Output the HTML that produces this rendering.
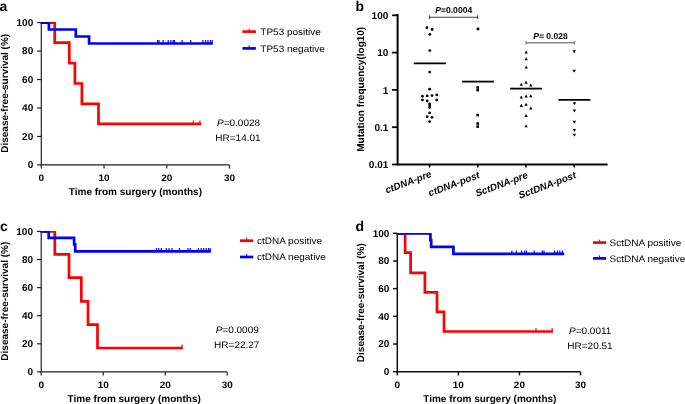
<!DOCTYPE html>
<html><head><meta charset="utf-8"><style>
html,body{margin:0;padding:0;background:#fff;overflow:hidden;width:685px;height:404px;}
svg{display:block;will-change:transform;}
text{font-family:"Liberation Sans",sans-serif;fill:#000;text-rendering:geometricPrecision;}
</style></head><body>
<svg width="685" height="404" viewBox="0 0 685 404">
<rect width="685" height="404" fill="#fff"/>
<path d="M41.3,22.6 V164.9 H229.5" fill="none" stroke="#222" stroke-width="1.2"/>
<clipPath id="clipa"><rect x="39.3" y="21.9" width="300" height="200"/></clipPath>
<g clip-path="url(#clipa)">
<path d="M40.699999999999996,22.6 H54.7 V42.6 H69.3 V63.1 H74.9 V83.5 H81.9 V103.8 H98.5 V123.9 H201.2" fill="none" stroke="#ff0000" stroke-width="2.7" stroke-linejoin="miter" stroke-linecap="butt"/>
<line x1="193.3" y1="123.9" x2="193.3" y2="120.5" stroke="#ff0000" stroke-width="1.2"/>
<line x1="199.9" y1="123.9" x2="199.9" y2="120.5" stroke="#ff0000" stroke-width="1.2"/>
<path d="M40.699999999999996,22.6 H48.9 V29.5 H75.8 V36.5 H89.1 V43.5 H212.8" fill="none" stroke="#0000ff" stroke-width="2.7" stroke-linejoin="miter" stroke-linecap="butt"/>
<line x1="157.6" y1="43.5" x2="157.6" y2="40.1" stroke="#0000ff" stroke-width="1.2"/>
<line x1="159" y1="43.5" x2="159" y2="40.1" stroke="#0000ff" stroke-width="1.2"/>
<line x1="163.1" y1="43.5" x2="163.1" y2="40.1" stroke="#0000ff" stroke-width="1.2"/>
<line x1="168.2" y1="43.5" x2="168.2" y2="40.1" stroke="#0000ff" stroke-width="1.2"/>
<line x1="170.9" y1="43.5" x2="170.9" y2="40.1" stroke="#0000ff" stroke-width="1.2"/>
<line x1="173.2" y1="43.5" x2="173.2" y2="40.1" stroke="#0000ff" stroke-width="1.2"/>
<line x1="174.5" y1="43.5" x2="174.5" y2="40.1" stroke="#0000ff" stroke-width="1.2"/>
<line x1="182.1" y1="43.5" x2="182.1" y2="40.1" stroke="#0000ff" stroke-width="1.2"/>
<line x1="190.6" y1="43.5" x2="190.6" y2="40.1" stroke="#0000ff" stroke-width="1.2"/>
<line x1="202.8" y1="43.5" x2="202.8" y2="40.1" stroke="#0000ff" stroke-width="1.2"/>
<line x1="205.5" y1="43.5" x2="205.5" y2="40.1" stroke="#0000ff" stroke-width="1.2"/>
<line x1="207.9" y1="43.5" x2="207.9" y2="40.1" stroke="#0000ff" stroke-width="1.2"/>
<line x1="210.4" y1="43.5" x2="210.4" y2="40.1" stroke="#0000ff" stroke-width="1.2"/>
<line x1="212.2" y1="43.5" x2="212.2" y2="40.1" stroke="#0000ff" stroke-width="1.2"/>
</g>
<line x1="37.099999999999994" y1="164.9" x2="41.3" y2="164.9" stroke="#222" stroke-width="1.2"/>
<text x="0" y="0" font-size="10" font-weight="bold" font-style="normal" text-anchor="end" fill="#000" transform="translate(33.2,168.1) scale(1,1.0)" >0</text>
<line x1="37.099999999999994" y1="136.44" x2="41.3" y2="136.44" stroke="#222" stroke-width="1.2"/>
<text x="0" y="0" font-size="10" font-weight="bold" font-style="normal" text-anchor="end" fill="#000" transform="translate(33.2,139.64) scale(1,1.0)" >20</text>
<line x1="37.099999999999994" y1="107.98" x2="41.3" y2="107.98" stroke="#222" stroke-width="1.2"/>
<text x="0" y="0" font-size="10" font-weight="bold" font-style="normal" text-anchor="end" fill="#000" transform="translate(33.2,111.18) scale(1,1.0)" >40</text>
<line x1="37.099999999999994" y1="79.52" x2="41.3" y2="79.52" stroke="#222" stroke-width="1.2"/>
<text x="0" y="0" font-size="10" font-weight="bold" font-style="normal" text-anchor="end" fill="#000" transform="translate(33.2,82.72) scale(1,1.0)" >60</text>
<line x1="37.099999999999994" y1="51.06" x2="41.3" y2="51.06" stroke="#222" stroke-width="1.2"/>
<text x="0" y="0" font-size="10" font-weight="bold" font-style="normal" text-anchor="end" fill="#000" transform="translate(33.2,54.26) scale(1,1.0)" >80</text>
<line x1="37.099999999999994" y1="22.599999999999994" x2="41.3" y2="22.599999999999994" stroke="#222" stroke-width="1.2"/>
<text x="0" y="0" font-size="10" font-weight="bold" font-style="normal" text-anchor="end" fill="#000" transform="translate(33.2,25.8) scale(1,1.0)" >100</text>
<line x1="41.3" y1="164.9" x2="41.3" y2="168.6" stroke="#222" stroke-width="1.2"/>
<text x="0" y="0" font-size="10" font-weight="bold" font-style="normal" text-anchor="middle" fill="#000" transform="translate(41.3,180.65) scale(1,0.94)" >0</text>
<line x1="104.03333333333333" y1="164.9" x2="104.03333333333333" y2="168.6" stroke="#222" stroke-width="1.2"/>
<text x="0" y="0" font-size="10" font-weight="bold" font-style="normal" text-anchor="middle" fill="#000" transform="translate(104.03,180.65) scale(1,0.94)" >10</text>
<line x1="166.76666666666665" y1="164.9" x2="166.76666666666665" y2="168.6" stroke="#222" stroke-width="1.2"/>
<text x="0" y="0" font-size="10" font-weight="bold" font-style="normal" text-anchor="middle" fill="#000" transform="translate(166.77,180.65) scale(1,0.94)" >20</text>
<line x1="229.49999999999994" y1="164.9" x2="229.49999999999994" y2="168.6" stroke="#222" stroke-width="1.2"/>
<text x="0" y="0" font-size="10" font-weight="bold" font-style="normal" text-anchor="middle" fill="#000" transform="translate(229.5,180.65) scale(1,0.94)" >30</text>
<text x="0" y="0" font-size="10" font-weight="bold" font-style="normal" text-anchor="middle" fill="#000" transform="translate(135.4,194.6) scale(1,1)" >Time from surgery (months)</text>
<text x="0" y="0" font-size="10" font-weight="bold" text-anchor="middle" transform="translate(7.9,93.3) rotate(-90)">Disease-free-survival (%)</text>
<line x1="242.4" y1="31.6" x2="255.9" y2="31.6" stroke="#ff0000" stroke-width="2.7"/>
<line x1="249.15" y1="31.6" x2="249.15" y2="28.6" stroke="#ff0000" stroke-width="1"/>
<text x="0" y="0" font-size="10" transform="translate(260.3,35.4) scale(1,0.94)">TP53 positive</text>
<line x1="242.4" y1="48.4" x2="255.9" y2="48.4" stroke="#0000ff" stroke-width="2.7"/>
<line x1="249.15" y1="48.4" x2="249.15" y2="45.4" stroke="#0000ff" stroke-width="1"/>
<text x="0" y="0" font-size="10" transform="translate(260.3,51.6) scale(1,0.94)">TP53 negative</text>
<text x="0" y="0" font-size="10" transform="translate(217,125.8) scale(1,0.94)"><tspan font-style="italic">P</tspan>=0.0028</text>
<text x="0" y="0" font-size="10" transform="translate(215.3,140.7) scale(1,0.94)">HR=14.01</text>
<text x="0" y="0" font-size="14" font-weight="bold" font-style="normal" text-anchor="start" fill="#000" transform="translate(-0.6,10.6) scale(1,1)" >a</text>
<path d="M41.2,231.4 V371.9 H227.2" fill="none" stroke="#222" stroke-width="1.2"/>
<clipPath id="clipc"><rect x="39.2" y="230.9" width="300" height="200"/></clipPath>
<g clip-path="url(#clipc)">
<path d="M40.6,231.3 H54.8 V254.4 H69.0 V277.7 H81.3 V301.4 H88.0 V324.6 H97.5 V348.0 H182.7" fill="none" stroke="#ff0000" stroke-width="2.7" stroke-linejoin="miter" stroke-linecap="butt"/>
<line x1="182.1" y1="348.0" x2="182.1" y2="344.6" stroke="#ff0000" stroke-width="1.2"/>
<path d="M40.6,231.3 H48.7 V237.8 H74.1 V244.3 H75.2 V251.4 H210.8" fill="none" stroke="#0000ff" stroke-width="2.7" stroke-linejoin="miter" stroke-linecap="butt"/>
<line x1="156.5" y1="251.4" x2="156.5" y2="248.0" stroke="#0000ff" stroke-width="1.2"/>
<line x1="158.7" y1="251.4" x2="158.7" y2="248.0" stroke="#0000ff" stroke-width="1.2"/>
<line x1="161.4" y1="251.4" x2="161.4" y2="248.0" stroke="#0000ff" stroke-width="1.2"/>
<line x1="166.3" y1="251.4" x2="166.3" y2="248.0" stroke="#0000ff" stroke-width="1.2"/>
<line x1="169" y1="251.4" x2="169" y2="248.0" stroke="#0000ff" stroke-width="1.2"/>
<line x1="172" y1="251.4" x2="172" y2="248.0" stroke="#0000ff" stroke-width="1.2"/>
<line x1="179.4" y1="251.4" x2="179.4" y2="248.0" stroke="#0000ff" stroke-width="1.2"/>
<line x1="188" y1="251.4" x2="188" y2="248.0" stroke="#0000ff" stroke-width="1.2"/>
<line x1="190.3" y1="251.4" x2="190.3" y2="248.0" stroke="#0000ff" stroke-width="1.2"/>
<line x1="198.4" y1="251.4" x2="198.4" y2="248.0" stroke="#0000ff" stroke-width="1.2"/>
<line x1="201.2" y1="251.4" x2="201.2" y2="248.0" stroke="#0000ff" stroke-width="1.2"/>
<line x1="203.8" y1="251.4" x2="203.8" y2="248.0" stroke="#0000ff" stroke-width="1.2"/>
<line x1="206.2" y1="251.4" x2="206.2" y2="248.0" stroke="#0000ff" stroke-width="1.2"/>
<line x1="208.5" y1="251.4" x2="208.5" y2="248.0" stroke="#0000ff" stroke-width="1.2"/>
<line x1="210.2" y1="251.4" x2="210.2" y2="248.0" stroke="#0000ff" stroke-width="1.2"/>
</g>
<line x1="37.0" y1="371.9" x2="41.2" y2="371.9" stroke="#222" stroke-width="1.2"/>
<text x="0" y="0" font-size="10" font-weight="bold" font-style="normal" text-anchor="end" fill="#000" transform="translate(33.0,375.1) scale(1,1.0)" >0</text>
<line x1="37.0" y1="343.79999999999995" x2="41.2" y2="343.79999999999995" stroke="#222" stroke-width="1.2"/>
<text x="0" y="0" font-size="10" font-weight="bold" font-style="normal" text-anchor="end" fill="#000" transform="translate(33.0,347.0) scale(1,1.0)" >20</text>
<line x1="37.0" y1="315.7" x2="41.2" y2="315.7" stroke="#222" stroke-width="1.2"/>
<text x="0" y="0" font-size="10" font-weight="bold" font-style="normal" text-anchor="end" fill="#000" transform="translate(33.0,318.9) scale(1,1.0)" >40</text>
<line x1="37.0" y1="287.6" x2="41.2" y2="287.6" stroke="#222" stroke-width="1.2"/>
<text x="0" y="0" font-size="10" font-weight="bold" font-style="normal" text-anchor="end" fill="#000" transform="translate(33.0,290.8) scale(1,1.0)" >60</text>
<line x1="37.0" y1="259.5" x2="41.2" y2="259.5" stroke="#222" stroke-width="1.2"/>
<text x="0" y="0" font-size="10" font-weight="bold" font-style="normal" text-anchor="end" fill="#000" transform="translate(33.0,262.7) scale(1,1.0)" >80</text>
<line x1="37.0" y1="231.4" x2="41.2" y2="231.4" stroke="#222" stroke-width="1.2"/>
<text x="0" y="0" font-size="10" font-weight="bold" font-style="normal" text-anchor="end" fill="#000" transform="translate(33.0,234.6) scale(1,1.0)" >100</text>
<line x1="41.2" y1="371.9" x2="41.2" y2="375.59999999999997" stroke="#222" stroke-width="1.2"/>
<text x="0" y="0" font-size="10" font-weight="bold" font-style="normal" text-anchor="middle" fill="#000" transform="translate(41.2,387.85) scale(1,0.94)" >0</text>
<line x1="103.2" y1="371.9" x2="103.2" y2="375.59999999999997" stroke="#222" stroke-width="1.2"/>
<text x="0" y="0" font-size="10" font-weight="bold" font-style="normal" text-anchor="middle" fill="#000" transform="translate(103.2,387.85) scale(1,0.94)" >10</text>
<line x1="165.2" y1="371.9" x2="165.2" y2="375.59999999999997" stroke="#222" stroke-width="1.2"/>
<text x="0" y="0" font-size="10" font-weight="bold" font-style="normal" text-anchor="middle" fill="#000" transform="translate(165.2,387.85) scale(1,0.94)" >20</text>
<line x1="227.2" y1="371.9" x2="227.2" y2="375.59999999999997" stroke="#222" stroke-width="1.2"/>
<text x="0" y="0" font-size="10" font-weight="bold" font-style="normal" text-anchor="middle" fill="#000" transform="translate(227.2,387.85) scale(1,0.94)" >30</text>
<text x="0" y="0" font-size="10" font-weight="bold" font-style="normal" text-anchor="middle" fill="#000" transform="translate(134.2,401.8) scale(1,1)" >Time from surgery (months)</text>
<text x="0" y="0" font-size="10" font-weight="bold" text-anchor="middle" transform="translate(7.7,301.2) rotate(-90)">Disease-free-survival (%)</text>
<line x1="240" y1="240.7" x2="253.3" y2="240.7" stroke="#ff0000" stroke-width="2.7"/>
<line x1="246.65" y1="240.7" x2="246.65" y2="237.7" stroke="#ff0000" stroke-width="1"/>
<text x="0" y="0" font-size="10" transform="translate(257,243.8) scale(1,0.94)">ctDNA positive</text>
<line x1="240" y1="257.0" x2="253.3" y2="257.0" stroke="#0000ff" stroke-width="2.7"/>
<line x1="246.65" y1="257.0" x2="246.65" y2="254.0" stroke="#0000ff" stroke-width="1"/>
<text x="0" y="0" font-size="10" transform="translate(257,260.2) scale(1,0.94)">ctDNA negative</text>
<text x="0" y="0" font-size="10" transform="translate(215.7,333.3) scale(1,0.94)"><tspan font-style="italic">P</tspan>=0.0009</text>
<text x="0" y="0" font-size="10" transform="translate(214.1,348.1) scale(1,0.94)">HR=22.27</text>
<text x="0" y="0" font-size="14" font-weight="bold" font-style="normal" text-anchor="start" fill="#000" transform="translate(0.1,230.7) scale(1,1)" >c</text>
<path d="M397.3,233.3 V371.7 H580.5" fill="none" stroke="#111" stroke-width="1.5"/>
<clipPath id="clipd"><rect x="395.3" y="232.9" width="300" height="200"/></clipPath>
<g clip-path="url(#clipd)">
<path d="M396.7,233.4 H405.1 V252.6 H410.6 V272.8 H424.9 V292.4 H437.0 V311.8 H444.0 V331.5 H552.9" fill="none" stroke="#ff0000" stroke-width="2.7" stroke-linejoin="miter" stroke-linecap="butt"/>
<line x1="536.0" y1="331.5" x2="536.0" y2="328.1" stroke="#ff0000" stroke-width="1.2"/>
<line x1="552.1" y1="331.5" x2="552.1" y2="328.1" stroke="#ff0000" stroke-width="1.2"/>
<path d="M396.7,233.4 H430.4 V240.2 H431.2 V246.8 H453.4 V253.9 H564.2" fill="none" stroke="#0000ff" stroke-width="2.7" stroke-linejoin="miter" stroke-linecap="butt"/>
<line x1="511.9" y1="253.9" x2="511.9" y2="250.5" stroke="#0000ff" stroke-width="1.2"/>
<line x1="516.3" y1="253.9" x2="516.3" y2="250.5" stroke="#0000ff" stroke-width="1.2"/>
<line x1="521.6" y1="253.9" x2="521.6" y2="250.5" stroke="#0000ff" stroke-width="1.2"/>
<line x1="524.8" y1="253.9" x2="524.8" y2="250.5" stroke="#0000ff" stroke-width="1.2"/>
<line x1="526.5" y1="253.9" x2="526.5" y2="250.5" stroke="#0000ff" stroke-width="1.2"/>
<line x1="534.2" y1="253.9" x2="534.2" y2="250.5" stroke="#0000ff" stroke-width="1.2"/>
<line x1="542.3" y1="253.9" x2="542.3" y2="250.5" stroke="#0000ff" stroke-width="1.2"/>
<line x1="544" y1="253.9" x2="544" y2="250.5" stroke="#0000ff" stroke-width="1.2"/>
<line x1="554.6" y1="253.9" x2="554.6" y2="250.5" stroke="#0000ff" stroke-width="1.2"/>
<line x1="557.4" y1="253.9" x2="557.4" y2="250.5" stroke="#0000ff" stroke-width="1.2"/>
<line x1="559.8" y1="253.9" x2="559.8" y2="250.5" stroke="#0000ff" stroke-width="1.2"/>
<line x1="562.4" y1="253.9" x2="562.4" y2="250.5" stroke="#0000ff" stroke-width="1.2"/>
</g>
<line x1="393.1" y1="371.7" x2="397.3" y2="371.7" stroke="#111" stroke-width="1.5"/>
<text x="0" y="0" font-size="10" font-weight="bold" font-style="normal" text-anchor="end" fill="#000" transform="translate(389.4,374.9) scale(1,1.0)" >0</text>
<line x1="393.1" y1="344.02" x2="397.3" y2="344.02" stroke="#111" stroke-width="1.5"/>
<text x="0" y="0" font-size="10" font-weight="bold" font-style="normal" text-anchor="end" fill="#000" transform="translate(389.4,347.22) scale(1,1.0)" >20</text>
<line x1="393.1" y1="316.34" x2="397.3" y2="316.34" stroke="#111" stroke-width="1.5"/>
<text x="0" y="0" font-size="10" font-weight="bold" font-style="normal" text-anchor="end" fill="#000" transform="translate(389.4,319.54) scale(1,1.0)" >40</text>
<line x1="393.1" y1="288.65999999999997" x2="397.3" y2="288.65999999999997" stroke="#111" stroke-width="1.5"/>
<text x="0" y="0" font-size="10" font-weight="bold" font-style="normal" text-anchor="end" fill="#000" transform="translate(389.4,291.86) scale(1,1.0)" >60</text>
<line x1="393.1" y1="260.98" x2="397.3" y2="260.98" stroke="#111" stroke-width="1.5"/>
<text x="0" y="0" font-size="10" font-weight="bold" font-style="normal" text-anchor="end" fill="#000" transform="translate(389.4,264.18) scale(1,1.0)" >80</text>
<line x1="393.1" y1="233.3" x2="397.3" y2="233.3" stroke="#111" stroke-width="1.5"/>
<text x="0" y="0" font-size="10" font-weight="bold" font-style="normal" text-anchor="end" fill="#000" transform="translate(389.4,236.5) scale(1,1.0)" >100</text>
<line x1="397.3" y1="371.7" x2="397.3" y2="375.4" stroke="#111" stroke-width="1.5"/>
<text x="0" y="0" font-size="10" font-weight="bold" font-style="normal" text-anchor="middle" fill="#000" transform="translate(397.3,387.85) scale(1,0.94)" >0</text>
<line x1="458.3666666666667" y1="371.7" x2="458.3666666666667" y2="375.4" stroke="#111" stroke-width="1.5"/>
<text x="0" y="0" font-size="10" font-weight="bold" font-style="normal" text-anchor="middle" fill="#000" transform="translate(458.37,387.85) scale(1,0.94)" >10</text>
<line x1="519.4333333333334" y1="371.7" x2="519.4333333333334" y2="375.4" stroke="#111" stroke-width="1.5"/>
<text x="0" y="0" font-size="10" font-weight="bold" font-style="normal" text-anchor="middle" fill="#000" transform="translate(519.43,387.85) scale(1,0.94)" >20</text>
<line x1="580.5" y1="371.7" x2="580.5" y2="375.4" stroke="#111" stroke-width="1.5"/>
<text x="0" y="0" font-size="10" font-weight="bold" font-style="normal" text-anchor="middle" fill="#000" transform="translate(580.5,387.85) scale(1,0.94)" >30</text>
<text x="0" y="0" font-size="10" font-weight="bold" font-style="normal" text-anchor="middle" fill="#000" transform="translate(489.8,401.8) scale(1,1)" >Time from surgery (months)</text>
<text x="0" y="0" font-size="10" font-weight="bold" text-anchor="middle" transform="translate(363.9,302.7) rotate(-90)">Disease-free-survival (%)</text>
<line x1="593" y1="242.6" x2="606.2" y2="242.6" stroke="#ff0000" stroke-width="2.7"/>
<line x1="599.6" y1="242.6" x2="599.6" y2="239.6" stroke="#ff0000" stroke-width="1"/>
<text x="0" y="0" font-size="10" transform="translate(609.6,246.2) scale(1,0.94)">SctDNA positive</text>
<line x1="593" y1="258.4" x2="606.2" y2="258.4" stroke="#0000ff" stroke-width="2.7"/>
<line x1="599.6" y1="258.4" x2="599.6" y2="255.39999999999998" stroke="#0000ff" stroke-width="1"/>
<text x="0" y="0" font-size="10" transform="translate(609.6,261.9) scale(1,0.94)">SctDNA negative</text>
<text x="0" y="0" font-size="10" transform="translate(569,333.7) scale(1,0.94)"><tspan font-style="italic">P</tspan>=0.0011</text>
<text x="0" y="0" font-size="10" transform="translate(567.3,348.6) scale(1,0.94)">HR=20.51</text>
<text x="0" y="0" font-size="14" font-weight="bold" font-style="normal" text-anchor="start" fill="#000" transform="translate(355.4,230.8) scale(1,1)" >d</text>
<circle cx="426.9" cy="27.7" r="1.4" fill="#000"/>
<circle cx="432.1" cy="29.5" r="1.4" fill="#000"/>
<circle cx="429.8" cy="34.3" r="1.4" fill="#000"/>
<circle cx="429.8" cy="50.6" r="1.4" fill="#000"/>
<circle cx="429.7" cy="72.1" r="1.4" fill="#000"/>
<circle cx="429.65" cy="89.16" r="1.4" fill="#000"/>
<circle cx="422.4" cy="96.2" r="1.4" fill="#000"/>
<circle cx="427.2" cy="95.9" r="1.4" fill="#000"/>
<circle cx="432.0" cy="95.6" r="1.4" fill="#000"/>
<circle cx="436.8" cy="94.9" r="1.4" fill="#000"/>
<circle cx="422.4" cy="100" r="1.4" fill="#000"/>
<circle cx="427.2" cy="100.8" r="1.4" fill="#000"/>
<circle cx="436.8" cy="100" r="1.4" fill="#000"/>
<circle cx="429.65" cy="104.0" r="1.4" fill="#000"/>
<circle cx="429.65" cy="105.8" r="1.4" fill="#000"/>
<circle cx="429.65" cy="107.6" r="1.4" fill="#000"/>
<circle cx="429.65" cy="112.9" r="1.4" fill="#000"/>
<circle cx="427.2" cy="116.7" r="1.4" fill="#000"/>
<circle cx="432.0" cy="117.3" r="1.4" fill="#000"/>
<circle cx="429.65" cy="121.6" r="1.4" fill="#000"/>
<rect x="476.7" y="27.599999999999998" width="2.6" height="2.6" fill="#000"/>
<rect x="476.4" y="86.2" width="2.6" height="2.6" fill="#000"/>
<rect x="476.4" y="88.8" width="2.6" height="2.6" fill="#000"/>
<rect x="476.4" y="113.8" width="2.6" height="2.6" fill="#000"/>
<rect x="476.4" y="122.2" width="2.6" height="2.6" fill="#000"/>
<rect x="476.4" y="125.3" width="2.6" height="2.6" fill="#000"/>
<path d="M526.2,50.400000000000006 L527.9000000000001,53.400000000000006 L524.5,53.400000000000006 Z" fill="#000"/>
<path d="M526.2,57.300000000000004 L527.9000000000001,60.300000000000004 L524.5,60.300000000000004 Z" fill="#000"/>
<path d="M526.2,65.5 L527.9000000000001,68.5 L524.5,68.5 Z" fill="#000"/>
<path d="M526.1,80.8 L527.8000000000001,83.8 L524.4,83.8 Z" fill="#000"/>
<path d="M521.3,82.8 L523.0,85.8 L519.5999999999999,85.8 Z" fill="#000"/>
<path d="M530.8,83.4 L532.5,86.4 L529.0999999999999,86.4 Z" fill="#000"/>
<path d="M521.3,95.5 L523.0,98.5 L519.5999999999999,98.5 Z" fill="#000"/>
<path d="M526.1,94.5 L527.8000000000001,97.5 L524.4,97.5 Z" fill="#000"/>
<path d="M530.8,94.3 L532.5,97.3 L529.0999999999999,97.3 Z" fill="#000"/>
<path d="M521.3,104.0 L523.0,107.0 L519.5999999999999,107.0 Z" fill="#000"/>
<path d="M526.1,102.7 L527.8000000000001,105.7 L524.4,105.7 Z" fill="#000"/>
<path d="M530.8,106.4 L532.5,109.4 L529.0999999999999,109.4 Z" fill="#000"/>
<path d="M526.1,113.9 L527.8000000000001,116.9 L524.4,116.9 Z" fill="#000"/>
<path d="M526.1,124.3 L527.8000000000001,127.3 L524.4,127.3 Z" fill="#000"/>
<path d="M574.2,53.3 L575.9000000000001,50.3 L572.5,50.3 Z" fill="#000"/>
<path d="M574.2,72.7 L575.9000000000001,69.7 L572.5,69.7 Z" fill="#000"/>
<path d="M574.4,105.2 L576.1,102.2 L572.6999999999999,102.2 Z" fill="#000"/>
<path d="M574.4,112.5 L576.1,109.5 L572.6999999999999,109.5 Z" fill="#000"/>
<path d="M574.4,123.7 L576.1,120.7 L572.6999999999999,120.7 Z" fill="#000"/>
<path d="M574.4,131.9 L576.1,128.9 L572.6999999999999,128.9 Z" fill="#000"/>
<path d="M574.4,136.70000000000002 L576.1,133.70000000000002 L572.6999999999999,133.70000000000002 Z" fill="#000"/>
<line x1="413.8" y1="63.4" x2="445.8" y2="63.4" stroke="#000" stroke-width="1.8"/>
<line x1="462.1" y1="81.6" x2="493.9" y2="81.6" stroke="#000" stroke-width="1.8"/>
<line x1="510.2" y1="88.6" x2="541.9" y2="88.6" stroke="#000" stroke-width="1.8"/>
<line x1="558.4" y1="99.8" x2="590.4" y2="99.8" stroke="#000" stroke-width="1.8"/>
<path d="M397.6,14.1 V164.5 H607.6" fill="none" stroke="#000" stroke-width="2"/>
<line x1="392.1" y1="164.5" x2="397.6" y2="164.5" stroke="#000" stroke-width="1.8"/>
<text x="0" y="0" font-size="10" font-weight="bold" font-style="normal" text-anchor="end" fill="#000" transform="translate(388.3,168.1) scale(1,1.0)" >0.01</text>
<line x1="392.1" y1="127.2" x2="397.6" y2="127.2" stroke="#000" stroke-width="1.8"/>
<text x="0" y="0" font-size="10" font-weight="bold" font-style="normal" text-anchor="end" fill="#000" transform="translate(388.3,130.8) scale(1,1.0)" >0.1</text>
<line x1="392.1" y1="89.9" x2="397.6" y2="89.9" stroke="#000" stroke-width="1.8"/>
<text x="0" y="0" font-size="10" font-weight="bold" font-style="normal" text-anchor="end" fill="#000" transform="translate(388.3,93.5) scale(1,1.0)" >1</text>
<line x1="392.1" y1="52.60000000000001" x2="397.6" y2="52.60000000000001" stroke="#000" stroke-width="1.8"/>
<text x="0" y="0" font-size="10" font-weight="bold" font-style="normal" text-anchor="end" fill="#000" transform="translate(388.3,56.2) scale(1,1.0)" >10</text>
<line x1="392.1" y1="15.300000000000011" x2="397.6" y2="15.300000000000011" stroke="#000" stroke-width="1.8"/>
<text x="0" y="0" font-size="10" font-weight="bold" font-style="normal" text-anchor="end" fill="#000" transform="translate(388.3,18.9) scale(1,1.0)" >100</text>
<line x1="429.6" y1="164.5" x2="429.6" y2="167.5" stroke="#000" stroke-width="1.5"/>
<text x="0" y="0" font-size="9.8" font-weight="bold" font-style="italic" text-anchor="end" transform="translate(432.1,176.6) rotate(-20.5)">ctDNA-pre</text>
<line x1="477.8" y1="164.5" x2="477.8" y2="167.5" stroke="#000" stroke-width="1.5"/>
<text x="0" y="0" font-size="9.8" font-weight="bold" font-style="italic" text-anchor="end" transform="translate(480.3,177.6) rotate(-20.5)">ctDNA-post</text>
<line x1="526.0" y1="164.5" x2="526.0" y2="167.5" stroke="#000" stroke-width="1.5"/>
<text x="0" y="0" font-size="9.8" font-weight="bold" font-style="italic" text-anchor="end" transform="translate(528.5,177.6) rotate(-20.5)">SctDNA-pre</text>
<line x1="574.2" y1="164.5" x2="574.2" y2="167.5" stroke="#000" stroke-width="1.5"/>
<text x="0" y="0" font-size="9.8" font-weight="bold" font-style="italic" text-anchor="end" transform="translate(576.7,177.6) rotate(-20.5)">SctDNA-post</text>
<path d="M429.5,15.3 V18.9 M429.5,17.3 H477.6 M477.6,15.3 V18.9" stroke="#444" stroke-width="1.1" fill="none"/>
<path d="M526.2,41 V44.4 M526.2,42.7 H574.5 M574.5,41 V44.4" stroke="#888" stroke-width="1.4" fill="none"/>
<text x="0" y="0" font-size="8.6" font-weight="bold" transform="translate(435.2,12.9) scale(1,1)"><tspan font-style="italic">P</tspan>=0.0004</text>
<text x="0" y="0" font-size="8.6" font-weight="bold" transform="translate(533.2,38.5) scale(1,1)"><tspan font-style="italic">P</tspan>= 0.028</text>
<text x="0" y="0" font-size="10" font-weight="bold" text-anchor="middle" transform="translate(364.3,89.3) rotate(-90)">Mutation frequency(log10)</text>
<text x="0" y="0" font-size="14" font-weight="bold" font-style="normal" text-anchor="start" fill="#000" transform="translate(355.4,10.6) scale(1,1)" >b</text>
</svg>
</body></html>
